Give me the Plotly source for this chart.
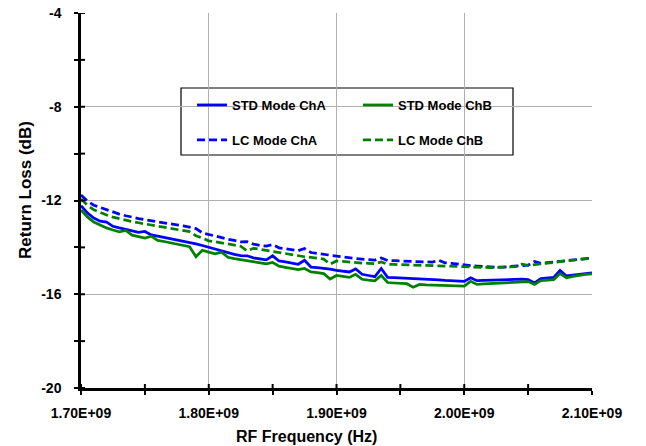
import plotly.graph_objects as go

freq_mhz = [1700, 1705, 1710, 1715, 1720, 1725, 1730, 1735, 1740, 1745,
            1750, 1755, 1760, 1765, 1770, 1775, 1780, 1785, 1790, 1795,
            1800, 1805, 1810, 1815, 1820, 1825, 1830, 1835, 1840, 1845,
            1850, 1855, 1860, 1865, 1870, 1875, 1880, 1885, 1890, 1895,
            1900, 1905, 1910, 1915, 1920, 1925, 1930, 1935, 1940, 1945,
            1950, 1955, 1960, 1965, 1970, 1975, 1980, 1985, 1990, 1995,
            2000, 2005, 2010, 2015, 2020, 2025, 2030, 2035, 2040, 2045,
            2050, 2055, 2060, 2065, 2070, 2075, 2080, 2085, 2090, 2095, 2100]

std_cha = [-12.22, -12.53, -12.75, -12.88, -12.92, -13.10, -13.17, -13.24, -13.30, -13.36,
           -13.32, -13.47, -13.52, -13.57, -13.62, -13.67, -13.72, -13.78, -13.85, -13.92,
           -14.00, -14.08, -14.15, -14.22, -14.30, -14.35, -14.36, -14.45, -14.50, -14.53,
           -14.36, -14.58, -14.62, -14.67, -14.72, -14.55, -14.84, -14.86, -14.88, -14.93,
           -14.98, -15.02, -15.05, -14.92, -15.15, -15.20, -15.25, -14.90, -15.28, -15.29,
           -15.30, -15.32, -15.33, -15.35, -15.36, -15.37, -15.39, -15.41, -15.43, -15.44,
           -15.45, -15.30, -15.42, -15.41, -15.40, -15.39, -15.38, -15.38, -15.38, -15.36,
           -15.38, -15.52, -15.33, -15.30, -15.28, -14.98, -15.22, -15.18, -15.15, -15.12, -15.09]

std_chb = [-12.40, -12.70, -12.92, -13.05, -13.17, -13.26, -13.34, -13.28, -13.48, -13.54,
           -13.60, -13.52, -13.70, -13.75, -13.80, -13.85, -13.90, -13.97, -14.40, -14.12,
           -14.20, -14.28, -14.20, -14.42, -14.48, -14.53, -14.58, -14.62, -14.66, -14.70,
           -14.64, -14.80, -14.85, -14.90, -14.95, -14.90, -15.05, -15.08, -15.12, -15.35,
           -15.20, -15.24, -15.28, -15.15, -15.36, -15.40, -15.43, -15.20, -15.50, -15.52,
           -15.53, -15.55, -15.70, -15.58, -15.60, -15.61, -15.62, -15.63, -15.64, -15.64,
           -15.65, -15.45, -15.58, -15.56, -15.55, -15.53, -15.52, -15.51, -15.50, -15.47,
           -15.46, -15.58, -15.42, -15.40, -15.38, -15.12, -15.30, -15.24, -15.18, -15.15, -15.13]

lc_cha = [-11.77, -12.02, -12.20, -12.30, -12.40, -12.50, -12.58, -12.65, -12.72, -12.77,
          -12.82, -12.87, -12.92, -12.96, -13.00, -13.04, -13.08, -13.13, -13.20, -13.38,
          -13.45, -13.53, -13.60, -13.65, -13.70, -13.76, -13.75, -13.86, -13.92, -13.95,
          -13.88, -14.02, -14.06, -14.10, -14.14, -14.05, -14.22, -14.26, -14.30, -14.34,
          -14.38, -14.42, -14.45, -14.48, -14.50, -14.52, -14.54, -14.45, -14.56, -14.57,
          -14.58, -14.59, -14.60, -14.61, -14.62, -14.63, -14.55, -14.66, -14.68, -14.72,
          -14.76, -14.78, -14.80, -14.82, -14.84, -14.85, -14.84, -14.82, -14.80, -14.78,
          -14.76, -14.60, -14.68, -14.65, -14.62, -14.59, -14.56, -14.53, -14.50, -14.47, -14.45]

lc_chb = [-11.94, -12.20, -12.40, -12.52, -12.62, -12.71, -12.78, -12.85, -12.90, -12.95,
          -13.00, -13.05, -13.10, -13.14, -13.18, -13.22, -13.27, -13.33, -13.50, -13.62,
          -13.72, -13.76, -13.80, -13.85, -13.90, -13.95, -14.15, -14.04, -14.08, -14.13,
          -14.18, -14.23, -14.28, -14.32, -14.36, -14.40, -14.43, -14.46, -14.50, -14.72,
          -14.58, -14.60, -14.63, -14.65, -14.67, -14.68, -14.70, -14.62, -14.72, -14.73,
          -14.74, -14.75, -14.76, -14.77, -14.78, -14.79, -14.80, -14.81, -14.82, -14.83,
          -14.84, -14.85, -14.85, -14.86, -14.86, -14.86, -14.85, -14.84, -14.82, -14.72,
          -14.77, -14.74, -14.70, -14.67, -14.64, -14.61, -14.58, -14.55, -14.52, -14.49, -14.46]

series_names = ["STD Mode ChA", "STD Mode ChB", "LC Mode ChA", "LC Mode ChB"]
x_tick_vals = [1.70e9, 1.80e9, 1.90e9, 2.00e9, 2.10e9]
x_tick_text = ["1.70E+09", "1.80E+09", "1.90E+09", "2.00E+09", "2.10E+09"]
x_minor_vals = [1.75e9, 1.85e9, 1.95e9, 2.05e9]
y_tick_vals = [-20, -16, -12, -8, -4]
y_tick_text = ["-20", "-16", "-12", "-8", "-4"]
y_minor_vals = [-18, -14, -10, -6]
x_title = "RF Frequency (Hz)"
y_title = "Return Loss (dB)"

X_MIN, X_MAX = 1.7e9, 2.1e9
Y_MIN, Y_MAX = -20, -4

freq_hz = [f * 1e6 for f in freq_mhz]
FONT = "Liberation Sans, Arial, sans-serif"
BLUE = "#0000FF"
GREEN = "#008000"

W, H = 646, 446
ML, MR, MT, MB = 81, 54, 13, 58
PW, PH = W - ML - MR, H - MT - MB


def px_x(p):
    return (p - ML) / PW


def px_y(p):
    return (H - MB - p) / PH


fig = go.Figure()
specs = [
    (std_cha, series_names[0], BLUE, "solid", "legend"),
    (std_chb, series_names[1], GREEN, "solid", "legend"),
    (lc_cha, series_names[2], BLUE, "8px,4px", "legend2"),
    (lc_chb, series_names[3], GREEN, "8px,4px", "legend2"),
]
for vals, name, col, dash, leg in specs:
    fig.add_trace(go.Scatter(x=freq_hz, y=vals, mode="lines", name="<b>" + name + "</b>",
                             line=dict(color=col, width=2.75, dash=dash),
                             legend=leg))

tickfont = dict(family=FONT, size=14, color="black")

# inside halves of the crossing tick marks (outside halves come from the axes)
tick_shapes = []
for v in x_tick_vals[:-1] + x_minor_vals:
    tick_shapes.append(dict(type="line", xref="x", yref="y", ysizemode="pixel",
                            yanchor=Y_MIN, x0=v, x1=v, y0=0, y1=4,
                            line=dict(color="black", width=2)))
for v in y_tick_vals + y_minor_vals:
    tick_shapes.append(dict(type="line", xref="x", yref="y", xsizemode="pixel",
                            xanchor=X_MIN, y0=v, y1=v, x0=0, x1=4,
                            line=dict(color="black", width=2)))

legend_box = dict(type="rect", xref="paper", yref="paper", x0=px_x(181), x1=px_x(513),
                  y0=px_y(155), y1=px_y(88), line=dict(color="black", width=1.2),
                  fillcolor="white", layer="below")

fig.update_layout(
    width=W, height=H,
    margin=dict(l=ML, r=MR, t=MT, b=MB),
    paper_bgcolor="white", plot_bgcolor="white",
    font=dict(family=FONT, color="black"),
    xaxis=dict(range=[X_MIN, X_MAX], tickmode="array", tickvals=x_tick_vals,
               ticktext=["<b>" + t + "</b>" for t in x_tick_text], ticks="outside",
               showgrid=True, gridcolor="#b0b0b0", gridwidth=1,
               showline=True, linecolor="black", linewidth=2.5,
               tickcolor="black", tickwidth=2, ticklen=4, tickfont=tickfont,
               ticklabelstandoff=6, zeroline=False, automargin=False,
               minor=dict(tickmode="array", tickvals=x_minor_vals,
                          ticks="outside", ticklen=4, tickwidth=2, tickcolor="black",
                          showgrid=False)),
    yaxis=dict(range=[Y_MIN, Y_MAX], tickmode="array", tickvals=y_tick_vals,
               ticktext=["<b>" + t + "</b>" for t in y_tick_text], ticks="outside",
               showgrid=True, gridcolor="#b0b0b0", gridwidth=1,
               showline=True, linecolor="black", linewidth=2.5,
               tickcolor="black", tickwidth=2, ticklen=4, tickfont=tickfont,
               ticklabelstandoff=10, zeroline=False, automargin=False,
               minor=dict(tickmode="array", tickvals=y_minor_vals,
                          ticks="outside", ticklen=4, tickwidth=2, tickcolor="black",
                          showgrid=False)),
    legend=dict(orientation="h", x=px_x(192), y=px_y(105), xanchor="left", yanchor="middle",
                entrywidth=121, entrywidthmode="pixels", bgcolor="rgba(0,0,0,0)",
                font=dict(family=FONT, size=13, color="black"), itemwidth=30),
    legend2=dict(orientation="h", x=px_x(192), y=px_y(140), xanchor="left", yanchor="middle",
                 entrywidth=121, entrywidthmode="pixels", bgcolor="rgba(0,0,0,0)",
                 font=dict(family=FONT, size=13, color="black"), itemwidth=30),
    shapes=[legend_box] + tick_shapes,
    annotations=[
        dict(text="<b>" + x_title + "</b>", xref="paper", yref="paper",
             x=px_x(306), y=px_y(436), xanchor="center", yanchor="middle",
             showarrow=False, font=dict(family=FONT, size=16, color="black")),
        dict(text="<b>" + y_title + "</b>", xref="paper", yref="paper",
             x=px_x(25), y=px_y(190), xanchor="center", yanchor="middle",
             textangle=-90, showarrow=False,
             font=dict(family=FONT, size=17, color="black")),
    ],
    showlegend=True,
)

fig.write_html("out.html", config={"displayModeBar": False},
               post_script="document.body.style.margin='0px';")
